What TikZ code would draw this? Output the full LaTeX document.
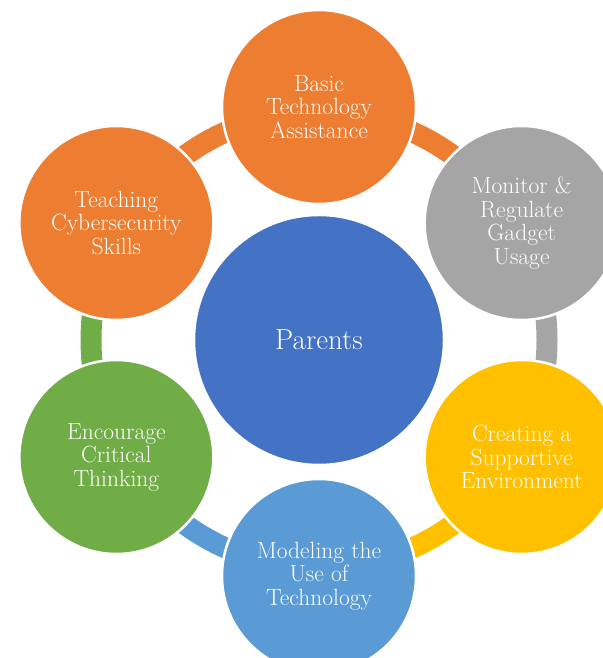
\documentclass[tikz,border=0pt]{standalone}
\usepackage{fontspec}
\usetikzlibrary{calc}
\definecolor{cOrange}{HTML}{ED7D31}
\definecolor{cGray}{HTML}{A5A5A5}
\definecolor{cYellow}{HTML}{FFC000}
\definecolor{cBlue}{HTML}{4472C4}
\definecolor{cLightBlue}{HTML}{5B9BD5}
\definecolor{cGreen}{HTML}{70AD47}
\tikzset{
  outer/.style={circle, draw=white, line width=2.5pt, minimum size=194pt, inner sep=0pt,
    text=white, align=center, font=\fontsize{23.5}{23.5}\selectfont},
  center/.style={circle, draw=white, line width=2.5pt, minimum size=250pt, inner sep=0pt,
    fill=cBlue, text=white, font=\fontsize{29}{32}\selectfont},
  ring/.style={line width=21pt},
}
\begin{document}
\begin{tikzpicture}[x=1pt,y=1pt]
\useasboundingbox (0,0) rectangle (602,658);
\coordinate (C) at (319,318);
% ring arcs
\draw[ring, cOrange] ([shift={(90:228pt)}]C) arc[start angle=90, end angle=30, radius=228pt];
\draw[ring, cGray] ([shift={(30:228pt)}]C) arc[start angle=30, end angle=-30, radius=228pt];
\draw[ring, cYellow] ([shift={(-30:228pt)}]C) arc[start angle=-30, end angle=-90, radius=228pt];
\draw[ring, cLightBlue] ([shift={(-90:228pt)}]C) arc[start angle=-90, end angle=-150, radius=228pt];
\draw[ring, cGreen] ([shift={(210:228pt)}]C) arc[start angle=210, end angle=150, radius=228pt];
\draw[ring, cOrange] ([shift={(150:228pt)}]C) arc[start angle=150, end angle=90, radius=228pt];
% circles
\node[center] (parents) at (C) {Parents};
\node[outer, fill=cOrange] (basic) at ([shift={(90:233pt)}]C) {Basic\\Technology\\Assistance};
\node[outer, fill=cGray] (monitor) at ([shift={(30:234pt)}]C) {Monitor \&\\Regulate\\Gadget\\Usage};
\node[outer, fill=cYellow] (creating) at ([shift={(-30:234pt)}]C) {Creating a\\Supportive\\Environment};
\node[outer, fill=cLightBlue] (modeling) at ([shift={(-90:236pt)}]C) {Modeling the\\Use of\\Technology};
\node[outer, fill=cGreen] (encourage) at ([shift={(210:234pt)}]C) {Encourage\\Critical\\Thinking};
\node[outer, fill=cOrange] (teaching) at ([shift={(150:234pt)}]C) {Teaching\\Cybersecurity\\Skills};
\end{tikzpicture}
\end{document}
